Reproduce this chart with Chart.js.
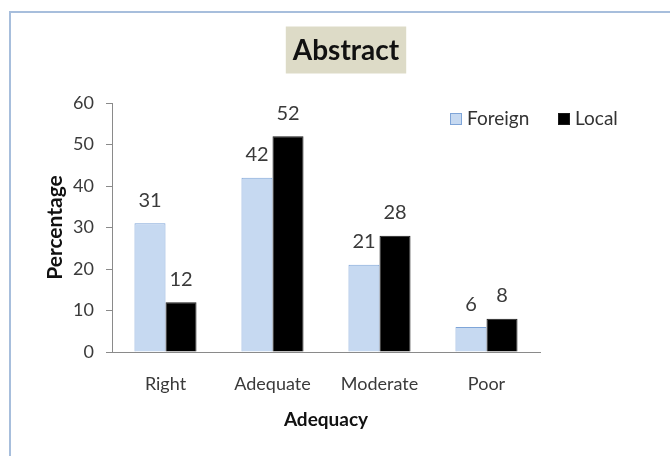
<!DOCTYPE html>
<html>
<head>
<meta charset="utf-8">
<script src="https://cdn.jsdelivr.net/npm/chart.js@4/dist/chart.umd.min.js"></script>
<style>
  html, body { margin: 0; padding: 0; background: #ffffff; }
  #wrap { width: 670px; height: 456px; }
</style>
</head>
<body>
<div id="wrap"><canvas id="chart" width="670" height="456"></canvas></div>
<script>
// Chart data
const chartTitle = 'Abstract';
const categories = ['Right', 'Adequate', 'Moderate', 'Poor'];
const seriesNames = ['Foreign', 'Local'];
const foreignValues = [31, 42, 21, 6];
const localValues = [12, 52, 28, 8];
const yTickValues = [0, 10, 20, 30, 40, 50, 60];
const xAxisTitle = 'Adequacy';
const yAxisTitle = 'Percentage';

const FONT = 'Lato, "Open Sans", sans-serif';
const TEXT = '#3a3a3a';
const AXIS = '#8a8a8a';

// Outer frame and the shaded title box
const framePlugin = {
  id: 'frame',
  beforeDraw(chart) {
    const ctx = chart.ctx;
    ctx.save();
    ctx.fillStyle = '#ffffff';
    ctx.fillRect(0, 0, chart.width, chart.height);
    ctx.strokeStyle = '#a7bedc';
    ctx.lineWidth = 2;
    ctx.strokeRect(10, 12, chart.width + 20, chart.height + 20);

    ctx.font = 'bold 28px ' + FONT;
    const w = ctx.measureText(chartTitle).width;
    const cx = 346, cy = 50;
    const bw = w + 14, bh = 47;
    ctx.fillStyle = '#dddbc7';
    ctx.fillRect(cx - bw / 2, cy - bh / 2, bw, bh);
    ctx.fillStyle = '#111111';
    ctx.textAlign = 'center';
    ctx.textBaseline = 'middle';
    ctx.fillText(chartTitle, cx, cy + 1);
    ctx.restore();
  }
};

// Value labels above each bar
const valueLabelPlugin = {
  id: 'valueLabels',
  afterDatasetsDraw(chart) {
    const ctx = chart.ctx;
    ctx.save();
    ctx.font = '20px ' + FONT;
    ctx.fillStyle = TEXT;
    ctx.textAlign = 'center';
    ctx.textBaseline = 'middle';
    chart.data.datasets.forEach((ds, i) => {
      chart.getDatasetMeta(i).data.forEach((bar, j) => {
        ctx.fillText(String(ds.data[j]), bar.x, bar.y - 23);
      });
    });
    ctx.restore();
  }
};

// Legend in the upper right of the plot
const legendPlugin = {
  id: 'cornerLegend',
  afterDraw(chart) {
    const ctx = chart.ctx;
    ctx.save();
    ctx.font = '19px ' + FONT;
    ctx.textBaseline = 'middle';
    ctx.textAlign = 'left';
    const y = 119;
    const starts = [450, 558];
    chart.data.datasets.forEach((ds, i) => {
      const x = starts[i];
      ctx.fillStyle = ds.backgroundColor;
      ctx.fillRect(x, y - 6, 12, 12);
      ctx.strokeStyle = ds.borderColor;
      ctx.lineWidth = 1;
      ctx.strokeRect(x + 0.5, y - 5.5, 11, 11);
      ctx.fillStyle = '#333333';
      ctx.fillText(ds.label, x + 17, y);
    });
    ctx.restore();
  }
};

new Chart(document.getElementById('chart'), {
  type: 'bar',
  data: {
    labels: categories,
    datasets: [
      {
        label: seriesNames[0],
        data: foreignValues,
        backgroundColor: '#c6d9f1',
        borderColor: '#7fa5d8',
        borderWidth: 1
      },
      {
        label: seriesNames[1],
        data: localValues,
        backgroundColor: '#000000',
        borderColor: '#1a1a1a',
        borderWidth: 1
      }
    ]
  },
  options: {
    responsive: false,
    animation: false,
    devicePixelRatio: 1,
    layout: { padding: { left: 0, right: 130, top: 103, bottom: 0 } },
    datasets: { bar: { categoryPercentage: 0.58, barPercentage: 1 } },
    plugins: {
      legend: { display: false },
      title: { display: false },
      tooltip: { enabled: false }
    },
    scales: {
      x: {
        offset: true,
        grid: { display: true, drawOnChartArea: false, drawTicks: false },
        border: { color: AXIS, width: 1 },
        ticks: { padding: 21, color: TEXT, font: { family: FONT, size: 18 } },
        title: {
          display: true,
          text: xAxisTitle,
          color: '#111111',
          font: { family: FONT, size: 19, weight: 'bold' },
          padding: { top: 0, bottom: 25 }
        },
        afterFit(scale) { scale.height = 104; }
      },
      y: {
        min: 0,
        max: 60,
        afterBuildTicks(scale) {
          scale.ticks = yTickValues.map(v => ({ value: v }));
        },
        grid: { drawOnChartArea: false, drawTicks: true, tickLength: 6, color: AXIS },
        border: { color: AXIS, width: 1 },
        ticks: { padding: 12, color: TEXT, font: { family: FONT, size: 18 } },
        title: {
          display: true,
          text: yAxisTitle,
          color: '#111111',
          font: { family: FONT, size: 21, weight: 'bold' },
          padding: { top: 43, bottom: 0 }
        },
        afterFit(scale) { scale.width = 112; }
      }
    }
  },
  plugins: [framePlugin, valueLabelPlugin, legendPlugin]
});
</script>
</body>
</html>
